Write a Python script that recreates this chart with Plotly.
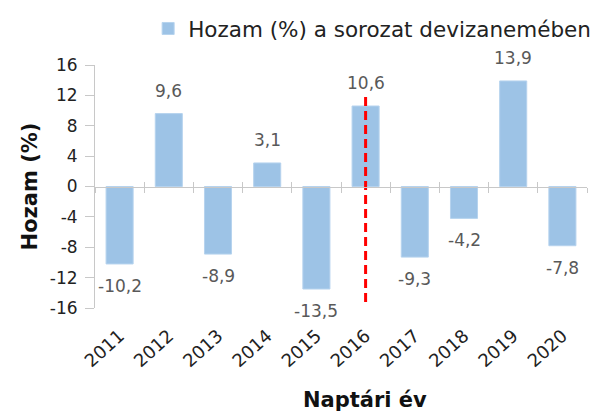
import plotly.graph_objects as go

years = ["2011", "2012", "2013", "2014", "2015", "2016", "2017", "2018", "2019", "2020"]
returns = [-10.2, 9.6, -8.9, 3.1, -13.5, 10.6, -9.3, -4.2, 13.9, -7.8]
labels = [f"{v:.1f}".replace(".", ",") for v in returns]
series_name = "Hozam (%) a sorozat devizanemében"
marker_year = "2016"
marker_span = [-15.2, 12.2]
y_ticks = [16, 12, 8, 4, 0, -4, -8, -12, -16]

FONT = "DejaVu Sans"
GREY = "#595959"
AXIS = "#c8c8c8"

fig = go.Figure()
fig.add_trace(go.Bar(
    x=years, y=returns, name=series_name,
    marker=dict(color="#9DC3E6", line=dict(color="#b6d3ee", width=1)),
    hoverinfo="skip",
))
fig.add_trace(go.Scatter(
    x=[marker_year, marker_year], y=marker_span, mode="lines",
    line=dict(color="#ff0000", width=3, dash="9px,5px"),
    showlegend=False, hoverinfo="skip",
))
# helper invisible traces for the zero-line axis with crossing ticks
for ax in ["x2", "x3"]:
    fig.add_trace(go.Scatter(x=years, y=[0]*len(years), xaxis=ax, mode="lines",
                             line=dict(width=0), showlegend=False, hoverinfo="skip"))

cat_range = [-0.5, len(years) - 0.5]
zero_axis = dict(type="category", categoryorder="array", categoryarray=years,
                 range=cat_range,
                 overlaying="x", anchor="free", position=0.5, showline=True,
                 linecolor=AXIS, linewidth=1, tickson="boundaries", ticklen=5,
                 tickcolor=AXIS, showticklabels=False, showgrid=False, zeroline=False,
                 automargin=False)

# value labels: positioned on the category axis by category index
value_labels = [dict(x=i, y=v, text=t, xref="x", yref="y", showarrow=False,
                     yanchor="middle", yshift=(23 if v > 0 else -22),
                     font=dict(family=FONT, size=17, color=GREY))
                for i, (v, t) in enumerate(zip(returns, labels))]

fig.update_layout(
    width=590, height=407,
    margin=dict(l=87, r=11, t=57, b=107, autoexpand=False),
    paper_bgcolor="white", plot_bgcolor="white",
    bargap=0.45,
    font=dict(family=FONT, color=GREY),
    showlegend=True,
    legend=dict(orientation="h", x=0.108, xanchor="left", y=1.0, yanchor="top",
                yref="container", font=dict(family=FONT, size=21.5, color="#222"),
                itemwidth=30),
    xaxis=dict(type="category", categoryorder="array", categoryarray=years,
               range=cat_range,
               showline=False, ticks="", tickangle=-42, automargin=False,
               ticklabelstandoff=13,
               tickfont=dict(family=FONT, size=18, color="#222"), showgrid=False),
    xaxis2=dict(zero_axis, ticks="outside"),
    xaxis3=dict(zero_axis, ticks="inside"),
    yaxis=dict(range=[-16, 16], tickvals=y_ticks, ticktext=[str(v) for v in y_ticks],
               showline=True, linecolor=AXIS, ticks="outside", ticklen=9, tickcolor=AXIS,
               showgrid=False, zeroline=False, automargin=False, ticklabelstandoff=4,
               tickfont=dict(family=FONT, size=17, color="#222"),
               title=dict(text="<b>Hozam (%)</b>", font=dict(family=FONT, size=21, color="#111"),
                          standoff=6)),
    annotations=value_labels + [dict(text="<b>Naptári év</b>", xref="paper", yref="paper",
                      x=0.549, y=-0.379, xanchor="center", yanchor="middle", showarrow=False,
                      font=dict(family=FONT, size=21, color="#111"))],
)

fig.write_html("out.html")
